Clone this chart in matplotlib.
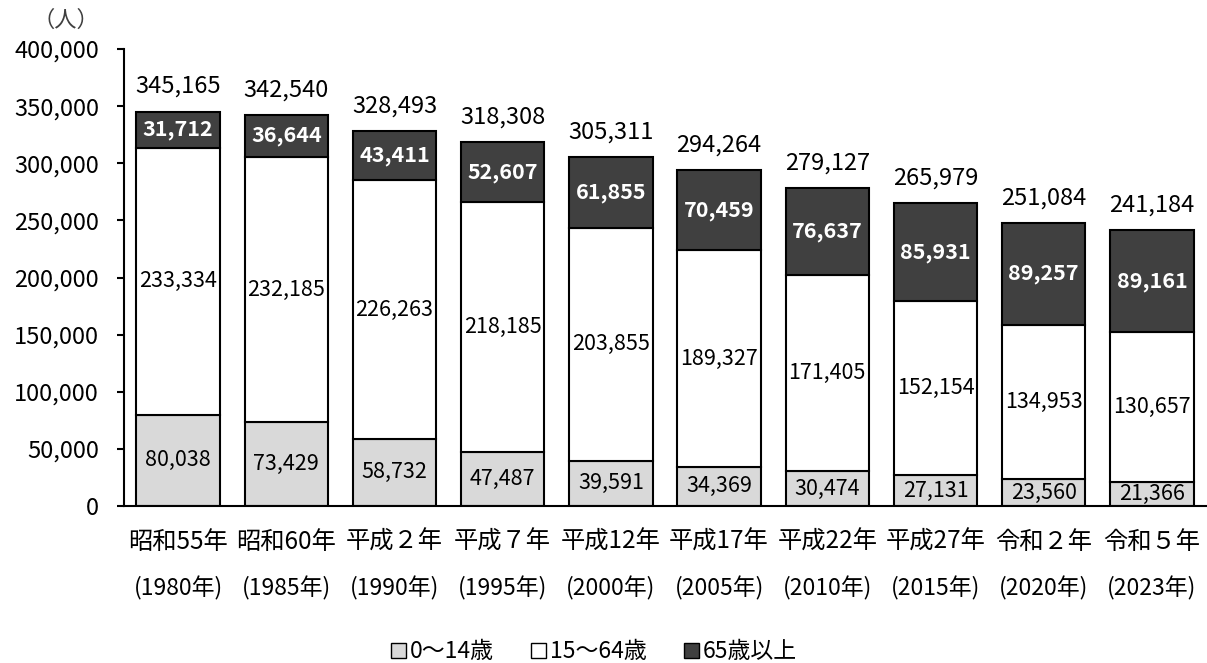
import matplotlib

matplotlib.use("Agg")

import matplotlib.pyplot as plt
from matplotlib.patches import Patch
from matplotlib.ticker import FuncFormatter

plt.rcParams["font.family"] = ["Noto Sans CJK JP", "DejaVu Sans"]

eras = ["昭和55年", "昭和60年", "平成２年", "平成７年", "平成12年",
        "平成17年", "平成22年", "平成27年", "令和２年", "令和５年"]
years = ["(1980年)", "(1985年)", "(1990年)", "(1995年)", "(2000年)",
         "(2005年)", "(2010年)", "(2015年)", "(2020年)", "(2023年)"]
age_0_14 = [80038, 73429, 58732, 47487, 39591, 34369, 30474, 27131, 23560, 21366]
age_15_64 = [233334, 232185, 226263, 218185, 203855, 189327, 171405, 152154, 134953, 130657]
age_65_up = [31712, 36644, 43411, 52607, 61855, 70459, 76637, 85931, 89257, 89161]
totals = [345165, 342540, 328493, 318308, 305311, 294264, 279127, 265979, 251084, 241184]

LIGHT = "#D9D9D9"
DARK = "#404040"

fig = plt.figure(figsize=(12.07, 6.63), dpi=100)
ax = fig.add_axes([124 / 1207, 157 / 663, 1082 / 1207, 457 / 663])

x = list(range(len(eras)))
w = 0.77
kw = dict(width=w, edgecolor="black", linewidth=1.5)
ax.bar(x, age_0_14, color=LIGHT, **kw)
ax.bar(x, age_15_64, bottom=age_0_14, color="white", **kw)
base = [a + b for a, b in zip(age_0_14, age_15_64)]
ax.bar(x, age_65_up, bottom=base, color=DARK, **kw)

for i in x:
    ax.text(i, age_0_14[i] / 2, f"{age_0_14[i]:,}", ha="center", va="center", fontsize=15.5)
    ax.text(i, age_0_14[i] + age_15_64[i] / 2, f"{age_15_64[i]:,}",
            ha="center", va="center", fontsize=15.5)
    ax.text(i, base[i] + age_65_up[i] / 2, f"{age_65_up[i]:,}", ha="center", va="center",
            fontsize=15.5, color="white", fontweight="bold")
    ax.text(i, base[i] + age_65_up[i] + 22000, f"{totals[i]:,}",
            ha="center", va="center", fontsize=17)

# two-row category labels: era name, then western year
xt = ax.get_xaxis_transform()
for i in x:
    ax.text(i, -0.079, eras[i], transform=xt, ha="center", va="center", fontsize=17.5)
    ax.text(i, -0.179, years[i], transform=xt, ha="center", va="center", fontsize=16.5)

ax.set_xlim(-0.5, len(eras) - 0.5)
ax.set_ylim(0, 400000)
ax.set_yticks(range(0, 400001, 50000))
ax.yaxis.set_major_formatter(FuncFormatter(lambda v, p: f"{int(v):,}"))
ax.tick_params(axis="y", labelsize=17, length=5, width=1.5, direction="out", pad=13)
ax.set_xticks([])

for s in ("top", "right"):
    ax.spines[s].set_visible(False)
ax.spines["left"].set_linewidth(1.5)
ax.spines["bottom"].set_linewidth(1.5)

fig.text(66 / 1207, 1 - 20 / 663, "（人）", fontsize=16, ha="center", va="center", color="#404040")

handles = [Patch(facecolor=LIGHT, edgecolor="black", label="0〜14歳"),
           Patch(facecolor="white", edgecolor="black", label="15〜64歳"),
           Patch(facecolor=DARK, edgecolor="black", label="65歳以上")]
fig.legend(handles=handles, loc="center", bbox_to_anchor=(594 / 1207, 1 - 652 / 663), ncol=3,
           frameon=False, fontsize=16.5, handlelength=0.65, handleheight=0.65,
           handletextpad=0.2, columnspacing=1.6, borderpad=0)

fig.savefig("out.png", dpi=100)
